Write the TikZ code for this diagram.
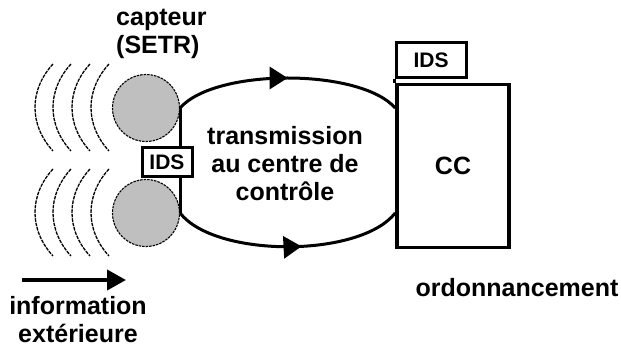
\documentclass[tikz,border=0pt]{standalone}
\usepackage{fontspec}
\setmainfont{Liberation Sans}
\usetikzlibrary{arrows.meta,decorations.markings}

\def\waveShift{105}

\begin{document}
\begin{tikzpicture}[x=1pt,y=-1pt,
    font=\bfseries\fontsize{25}{28}\selectfont,
    sensor/.style={circle, minimum size=67, inner sep=0, fill=black!25, draw,
      line width=1.1pt, dash pattern=on 2.5pt off 1pt},
    idsbox/.style={draw, fill=white, line width=3pt, inner sep=0,
      font=\bfseries\fontsize{21}{24}\selectfont},
    ccbox/.style={draw, line width=3.5pt, inner sep=0, minimum width=112, minimum height=163},
    wave/.style={line width=1.3pt, dash pattern=on 3.5pt off 1pt},
    link/.style={line width=3pt},
    midarrow/.style={postaction={decorate, decoration={markings,
      mark=at position #1 with {\arrow{Triangle[length=18pt,width=22pt]}}}}}
  ]
  \useasboundingbox (0,0) rectangle (621,347);

  %% waves of outside information
  \foreach \dy in {0,\waveShift}
    \foreach \x in {35,53,72,91}
      \draw [wave]
      (\x+18,64+\dy) .. controls (\x-6,90+\dy) and (\x-6,125+\dy) .. (\x+18,151+\dy)
      ;

  %% sensors
  \node [sensor] (capA) at (146,108) {};
  \node [sensor] (capB) at (146,213) {};
  \node [anchor=west, align=left, inner sep=0] (capteur) at (116,34) {capteur\\(SETR)};

  %% link between the sensors
  \node [idsbox, minimum width=50, minimum height=29] (idsA) at (167,162) {IDS};
  \draw [link] (capA.east) -- (capA.east |- idsA.north);
  \draw [link] (capB.east) -- (capB.east |- idsA.south);

  %% control centre
  \node [ccbox] (cc) at (453,166) {CC};
  \node [idsbox, minimum width=70, minimum height=35] (idsB) at (431,60) {IDS};
  \draw [line width=3pt] (idsB.south west) -- (idsB.south west |- cc.north);
  \node [inner sep=0] (ordo) at (517,288) {ordonnancement};

  %% transmission
  \draw [link, midarrow=0.5]
  (capA.east) .. controls (215,68) and (360,68) .. (cc.west |- capA.east)
  ;
  \draw [link, midarrow=0.56]
  (capB.east) .. controls (215,258) and (360,258) .. (cc.west |- capB.east)
  ;
  \node [align=center, inner sep=0] (trans) at (285,164)
  {transmission\\au centre de\\contrôle};

  %% outside information
  \coordinate (infoStart) at (22,280);
  \coordinate (infoEnd) at (126,280);
  \draw [line width=4pt, -{Triangle[length=19pt,width=20pt]}] (infoStart) -- (infoEnd);
  \node [align=center, inner sep=0] (info) at (78,320) {information\\extérieure};
\end{tikzpicture}
\end{document}
